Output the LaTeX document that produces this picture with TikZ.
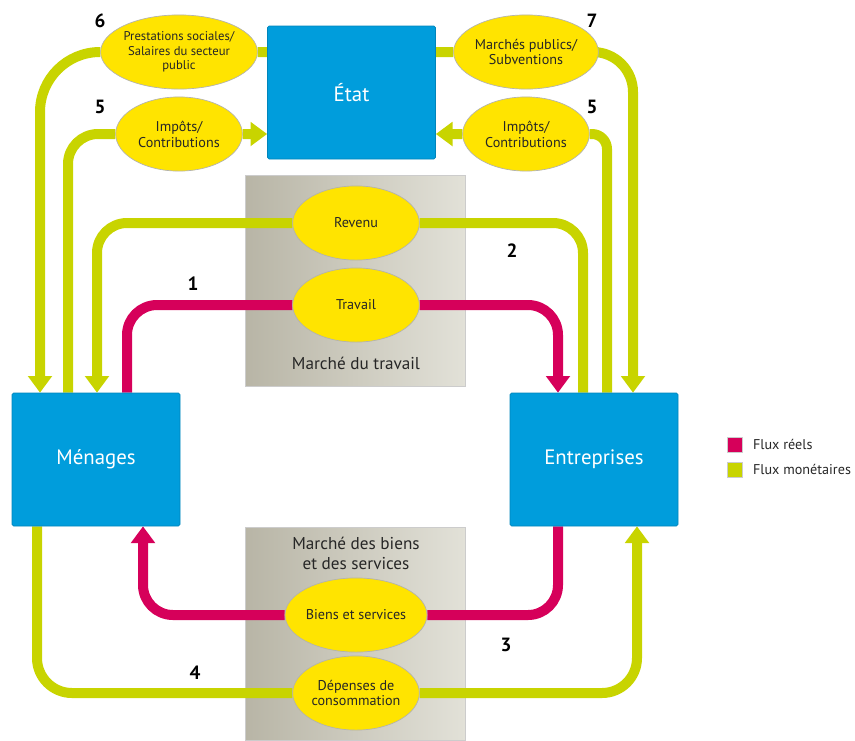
\documentclass[tikz,border=0pt]{standalone}
\usepackage{fontspec}
\setmainfont{PT Sans}
\usetikzlibrary{positioning,shapes.geometric,arrows.meta}
\definecolor{agentblue}{RGB}{0,157,220}
\definecolor{flowred}{RGB}{214,0,90}
\definecolor{flowgreen}{RGB}{200,212,0}
\definecolor{labelyellow}{RGB}{255,228,0}
\definecolor{marketdark}{RGB}{184,181,166}
\definecolor{marketlight}{RGB}{226,225,216}
\pgfdeclarelayer{back}
\pgfdeclarelayer{flows}
\pgfsetlayers{back,flows,main}

\tikzset{
  agent/.style={draw=agentblue!85!black, line width=0.4pt, fill=agentblue, text=white, rounded corners=1pt, minimum width=100.8pt, minimum height=79.8pt, font=\fontsize{12.5}{14}\selectfont},
  flowlabel/.style={ellipse, draw=black!30, line width=0.4pt, fill=labelyellow, minimum width=76pt, minimum height=44.5pt, inner sep=0pt, align=center, text=black!85, font=\fontsize{8.5}{9.5}\selectfont},
  market/.style={draw=black!20, line width=0.4pt, left color=marketdark, right color=marketlight, minimum width=132pt},
  marketname/.style={align=center, text=black!85, font=\fontsize{10.3}{12}\selectfont},
  realflow/.style={draw=flowred, line width=6pt, rounded corners=18pt, -{Triangle[width=14pt,length=10pt]}},
  moneyflow/.style={draw=flowgreen, line width=6pt, rounded corners=18pt, -{Triangle[width=14pt,length=10pt]}},
  num/.style={font=\bfseries\fontsize{11.5}{13}\selectfont},
  keybox/.style={minimum size=9pt, inner sep=0pt, draw=black!20, line width=0.3pt},
  keytext/.style={font=\fontsize{8.5}{10}\selectfont, text=black!85}
}

\begin{document}
\begin{tikzpicture}[x=0.6pt, y=-0.6pt]
\useasboundingbox (0,0) rectangle (855,740);

% Agents
\node[agent] (etat) at (351.5,92.5) {État};
\node[agent] (men) at (96,459.5) {Ménages};
\node[agent] (ent) at (594,459.5) {Entreprises};

% Markets
\begin{pgfonlayer}{back}
\node[market, minimum height=126.6pt] (mtrav) at (355,280.5) {};
\node[market, minimum height=127.8pt] (mbiens) at (355,633.5) {};
\end{pgfonlayer}
\node[marketname] (mtravname) at (356,363) {Marché du travail};
\node[marketname] (mbiensname) at (356,553) {Marché des biens\\et des services};

% Flow labels
\node[flowlabel, font=\fontsize{7.6}{8.6}\selectfont] (pre) at (179,52) {Prestations sociales/\\Salaires du secteur\\public};
\node[flowlabel] (impl) at (179,134) {Impôts/\\Contributions};
\node[flowlabel] (mar) at (526,52) {Marchés publics/\\Subventions};
\node[flowlabel] (impr) at (526,134) {Impôts/\\Contributions};
\node[flowlabel] (rev) at (356,223) {Revenu};
\node[flowlabel] (tra) at (356,305) {Travail};
\node[flowlabel] (bie) at (356,615) {Biens et services};
\node[flowlabel] (dep) at (356,693) {Dépenses de\\consommation};

% Numbers
\node[num] (n6) at (100,21) {6};
\node[num] (n5l) at (100,107) {5};
\node[num] (n7) at (592,21) {7};
\node[num] (n5r) at (592,107) {5};
\node[num] (n1) at (193,284) {1};
\node[num] (n2) at (512,251) {2};
\node[num] (n3) at (506,645) {3};
\node[num] (n4) at (195,673) {4};

% Connections
\begin{pgfonlayer}{flows}
\draw[realflow] ([xshift=18.6pt]men.north) |- (tra) -| ([xshift=-21.6pt]ent.north);
\draw[moneyflow] ([xshift=-6.6pt]ent.north) |- (rev) -| ([xshift=0.6pt]men.north);
\draw[realflow] ([xshift=-21.6pt]ent.south) |- (bie) -| ([xshift=28.2pt]men.south);
\draw[moneyflow, rounded corners=21pt] ([xshift=-35.4pt]men.south) |- (dep) -| ([xshift=25.8pt]ent.south);
\draw[moneyflow] ([xshift=-16.8pt]men.north) |- (impl) -- (etat.west |- impl);
\draw[moneyflow, rounded corners=36pt] (etat.west |- pre) -- (pre) -| ([xshift=-33.6pt]men.north);
\draw[moneyflow, rounded corners=24pt] (etat.east |- mar) -- (mar) -| ([xshift=23.4pt]ent.north);
\draw[moneyflow, rounded corners=9pt] ([xshift=7.8pt]ent.north) |- (impr) -- (etat.east |- impr);
\end{pgfonlayer}

% Legend
\node[keybox, fill=flowred] (keyreal) at (734.5,444.5) {};
\node[keytext, right=3pt of keyreal] (keyrealtxt) {Flux réels};
\node[keybox, fill=flowgreen] (keymoney) at (734.5,469.5) {};
\node[keytext, right=3pt of keymoney] (keymoneytxt) {Flux monétaires};
\end{tikzpicture}
\end{document}
